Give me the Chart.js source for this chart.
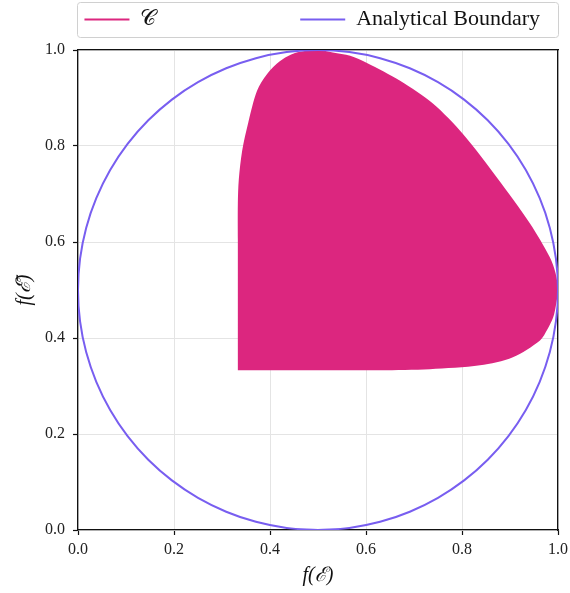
<!DOCTYPE html>
<html>
<head>
<meta charset="utf-8">
<script src="https://cdn.jsdelivr.net/npm/chart.js@4/dist/chart.umd.min.js"></script>
<style>
  html, body { margin: 0; padding: 0; background: #fff; }
</style>
</head>
<body>
<canvas id="chart" width="570" height="593"></canvas>
<script>
// region C, boundary traced around the filled shape
const regionX = [0.333, 0.333, 0.333, 0.335, 0.342, 0.355, 0.373, 0.394, 0.421, 0.452, 0.5, 0.531, 0.567, 0.602, 0.671, 0.740, 0.802, 0.873, 0.942, 0.983, 0.995, 1.0, 0.996, 0.990, 0.978, 0.9625, 0.906, 0.8375, 0.733, 0.629, 0.333];
const regionY = [0.333, 0.603, 0.68, 0.73, 0.79, 0.85, 0.915, 0.950, 0.977, 0.994, 1.0, 0.995, 0.988, 0.973, 0.936, 0.888, 0.825, 0.734, 0.638, 0.568, 0.535, 0.5, 0.47, 0.443, 0.418, 0.395, 0.360, 0.343, 0.335, 0.333, 0.333];

// analytical boundary (circle through the four axis midpoints)
const boundaryX = [0.5, 0.5653, 0.6294, 0.6913, 0.75, 0.8044, 0.8536, 0.8967, 0.933, 0.9619, 0.983, 0.9957,
  1.0, 0.9957, 0.983, 0.9619, 0.933, 0.8967, 0.8536, 0.8044, 0.75, 0.6913, 0.6294, 0.5653,
  0.5, 0.4347, 0.3706, 0.3087, 0.25, 0.1956, 0.1464, 0.1033, 0.067, 0.0381, 0.017, 0.0043,
  0.0, 0.0043, 0.017, 0.0381, 0.067, 0.1033, 0.1464, 0.1956, 0.25, 0.3087, 0.3706, 0.4347, 0.5];
const boundaryY = [0.0, 0.0043, 0.017, 0.0381, 0.067, 0.1033, 0.1464, 0.1956, 0.25, 0.3087, 0.3706, 0.4347,
  0.5, 0.5653, 0.6294, 0.6913, 0.75, 0.8044, 0.8536, 0.8967, 0.933, 0.9619, 0.983, 0.9957,
  1.0, 0.9957, 0.983, 0.9619, 0.933, 0.8967, 0.8536, 0.8044, 0.75, 0.6913, 0.6294, 0.5653,
  0.5, 0.4347, 0.3706, 0.3087, 0.25, 0.1956, 0.1464, 0.1033, 0.067, 0.0381, 0.017, 0.0043, 0.0];

const tickValues = [0, 0.2, 0.4, 0.6, 0.8, 1.0];
const seriesNames = ['\u{1D49E}', 'Analytical Boundary'];

const pink = '#DC267F';
const violet = '#785EF0';
const serif = "'Liberation Serif', 'DejaVu Serif', serif";
const legendSize = 22;
const legendPad = 6;
const legendBox = 45;

const toPts = (xs, ys) => xs.map((x, i) => ({ x: x, y: ys[i] }));

// pad legend texts with hair spaces so the two entries sit where the
// expanded two-column legend puts them
function legendLabels(chart) {
  const ctx = chart.ctx;
  ctx.save();
  ctx.font = legendSize + 'px ' + serif;
  const hair = ctx.measureText('\u200A').width || 1;
  const w = t => legendBox + legendSize / 2 + ctx.measureText(t).width;
  const width = chart.width;
  const firstStart = 85, secondStart = 300;
  const w1 = secondStart - legendPad - firstStart;
  const w2 = width - legendPad - secondStart;
  const pad = (t, target) => t + '\u200A'.repeat(Math.max(0, Math.round((target - w(t)) / hair)));
  const texts = [pad(seriesNames[0], w1), pad(seriesNames[1], w2)];
  ctx.restore();
  return chart.data.datasets.map((ds, i) => ({
    text: texts[i],
    fillStyle: ds.borderColor,
    strokeStyle: ds.borderColor,
    lineWidth: 0,
    hidden: false,
    datasetIndex: i,
    fontColor: '#111'
  }));
}

const legendFrame = {
  id: 'legendFrame',
  afterDraw(chart) {
    const ctx = chart.ctx;
    const a = chart.chartArea;
    ctx.save();
    ctx.strokeStyle = '#d0d0d0';
    ctx.lineWidth = 1;
    ctx.beginPath();
    ctx.roundRect(a.left - 0.5, 2.5, a.right - a.left + 1, 35, 3);
    ctx.stroke();
    ctx.restore();
  }
};

new Chart(document.getElementById('chart'), {
  type: 'line',
  data: {
    datasets: [{
      label: seriesNames[0],
      data: toPts(regionX, regionY),
      borderWidth: 0,
      borderColor: pink,
      backgroundColor: pink,
      pointRadius: 0,
      tension: 0.3,
      fill: 'shape',
      order: 1
    }, {
      label: seriesNames[1],
      data: toPts(boundaryX, boundaryY),
      borderWidth: 2,
      borderColor: violet,
      backgroundColor: violet,
      pointRadius: 0,
      tension: 0.4,
      fill: false,
      order: 0
    }]
  },
  options: {
    responsive: false,
    animation: false,
    layout: { padding: { top: 2.5, left: 0, right: 0, bottom: 0 } },
    plugins: {
      tooltip: { enabled: false },
      legend: {
        position: 'top',
        align: 'end',
        labels: {
          font: { family: serif, size: legendSize },
          color: '#111',
          boxWidth: legendBox,
          boxHeight: 2,
          padding: legendPad,
          sort: (a, b) => a.datasetIndex - b.datasetIndex,
          generateLabels: legendLabels
        }
      }
    },
    scales: {
      x: {
        type: 'linear',
        position: 'bottom',
        min: 0, max: 1,
        afterBuildTicks: s => { s.ticks = tickValues.map(v => ({ value: v })); },
        afterFit: s => { s.height = 63; s.paddingLeft = 0; s.paddingRight = 0; },
        ticks: {
          callback: v => v.toFixed(1),
          font: { family: serif, size: 16 },
          color: '#222',
          padding: 5,
          maxRotation: 0
        },
        grid: { color: '#e4e4e4', lineWidth: 1, tickLength: 5, tickColor: '#111', tickWidth: 1.2 },
        border: { color: '#111', width: 1.3 },
        title: {
          display: true,
          text: 'f(\u2130)',
          font: { family: serif, size: 20, style: 'italic' },
          color: '#111',
          padding: { top: 0, bottom: 5 }
        }
      },
      y: {
        type: 'linear',
        position: 'left',
        min: 0, max: 1,
        afterBuildTicks: s => { s.ticks = tickValues.map(v => ({ value: v })); },
        afterFit: s => { s.width = 78; s.paddingTop = 0; s.paddingBottom = 0; },
        ticks: {
          callback: v => v.toFixed(1),
          font: { family: serif, size: 16 },
          color: '#222',
          padding: 8
        },
        grid: { color: '#e4e4e4', lineWidth: 1, tickLength: 5, tickColor: '#111', tickWidth: 1.2 },
        border: { color: '#111', width: 1.3 },
        title: {
          display: true,
          text: 'f(\u2130\u0304)',
          font: { family: serif, size: 20, style: 'italic' },
          color: '#111',
          padding: { top: 13, bottom: 0 }
        }
      },
      xTop: {
        type: 'linear',
        position: 'top',
        min: 0, max: 1,
        afterFit: s => { s.height = 9.5; },
        ticks: { display: false },
        grid: { drawOnChartArea: false, drawTicks: false },
        border: { color: '#111', width: 1.3 }
      },
      yRight: {
        type: 'linear',
        position: 'right',
        min: 0, max: 1,
        afterFit: s => { s.width = 12; },
        ticks: { display: false },
        grid: { drawOnChartArea: false, drawTicks: false },
        border: { color: '#111', width: 1.3 }
      }
    }
  },
  plugins: [legendFrame]
});
</script>
</body>
</html>
